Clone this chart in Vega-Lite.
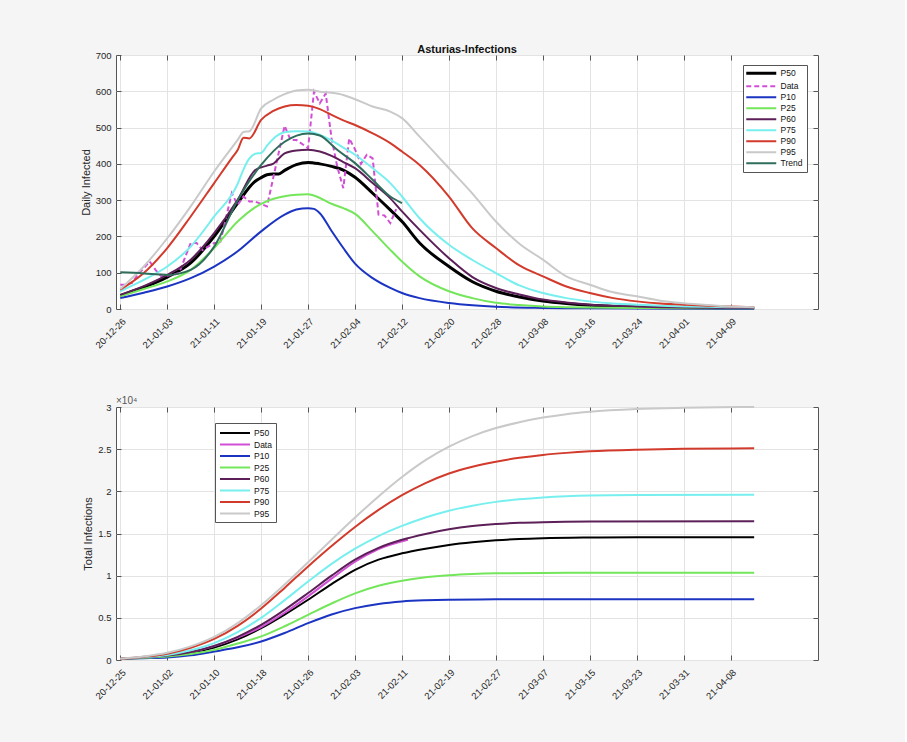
{
  "$schema": "https://vega.github.io/schema/vega-lite/v6.json",
  "background": "#f5f5f5",
  "padding": {"left": 79, "top": 43, "right": 86, "bottom": 40},
  "datasets": {
    "daily": [
      {"s":"P50","t":"2020-12-26","v":37},{"s":"P50","t":"2020-12-30","v":60},{"s":"P50","t":"2021-01-03","v":88},{"s":"P50","t":"2021-01-07","v":127},{"s":"P50","t":"2021-01-11","v":200},{"s":"P50","t":"2021-01-15","v":292},{"s":"P50","t":"2021-01-18","v":352},{"s":"P50","t":"2021-01-19","v":362},{"s":"P50","t":"2021-01-20","v":370},{"s":"P50","t":"2021-01-21","v":372},{"s":"P50","t":"2021-01-22","v":372},{"s":"P50","t":"2021-01-23","v":382},{"s":"P50","t":"2021-01-25","v":398},{"s":"P50","t":"2021-01-27","v":404},{"s":"P50","t":"2021-01-29","v":400},{"s":"P50","t":"2021-01-31","v":393},{"s":"P50","t":"2021-02-02","v":383},{"s":"P50","t":"2021-02-04","v":363},{"s":"P50","t":"2021-02-07","v":319},{"s":"P50","t":"2021-02-10","v":273},{"s":"P50","t":"2021-02-12","v":241},{"s":"P50","t":"2021-02-15","v":182},{"s":"P50","t":"2021-02-20","v":117},{"s":"P50","t":"2021-02-24","v":75},{"s":"P50","t":"2021-02-28","v":49},{"s":"P50","t":"2021-03-04","v":33},{"s":"P50","t":"2021-03-08","v":22},{"s":"P50","t":"2021-03-12","v":15},{"s":"P50","t":"2021-03-16","v":10},{"s":"P50","t":"2021-03-20","v":7},{"s":"P50","t":"2021-03-24","v":5.5},{"s":"P50","t":"2021-03-28","v":4.5},{"s":"P50","t":"2021-04-01","v":4},{"s":"P50","t":"2021-04-05","v":3.5},{"s":"P50","t":"2021-04-09","v":3},{"s":"P50","t":"2021-04-13","v":3},
      {"s":"Data","t":"2020-12-26","v":67},{"s":"Data","t":"2020-12-27","v":67},{"s":"Data","t":"2020-12-28","v":72},{"s":"Data","t":"2020-12-29","v":95},{"s":"Data","t":"2020-12-31","v":131},{"s":"Data","t":"2021-01-01","v":108},{"s":"Data","t":"2021-01-02","v":90},{"s":"Data","t":"2021-01-04","v":94},{"s":"Data","t":"2021-01-05","v":99},{"s":"Data","t":"2021-01-07","v":182},{"s":"Data","t":"2021-01-08","v":182},{"s":"Data","t":"2021-01-09","v":163},{"s":"Data","t":"2021-01-11","v":182},{"s":"Data","t":"2021-01-12","v":182},{"s":"Data","t":"2021-01-14","v":319},{"s":"Data","t":"2021-01-15","v":287},{"s":"Data","t":"2021-01-16","v":310},{"s":"Data","t":"2021-01-17","v":296},{"s":"Data","t":"2021-01-18","v":296},{"s":"Data","t":"2021-01-20","v":283},{"s":"Data","t":"2021-01-23","v":505},{"s":"Data","t":"2021-01-24","v":466},{"s":"Data","t":"2021-01-25","v":466},{"s":"Data","t":"2021-01-27","v":443},{"s":"Data","t":"2021-01-28","v":599},{"s":"Data","t":"2021-01-29","v":567},{"s":"Data","t":"2021-01-30","v":594},{"s":"Data","t":"2021-01-31","v":470},{"s":"Data","t":"2021-02-01","v":390},{"s":"Data","t":"2021-02-02","v":333},{"s":"Data","t":"2021-02-03","v":470},{"s":"Data","t":"2021-02-04","v":440},{"s":"Data","t":"2021-02-05","v":400},{"s":"Data","t":"2021-02-06","v":425},{"s":"Data","t":"2021-02-07","v":415},{"s":"Data","t":"2021-02-08","v":260},{"s":"Data","t":"2021-02-09","v":258},{"s":"Data","t":"2021-02-10","v":237},{"s":"Data","t":"2021-02-11","v":275},
      {"s":"P10","t":"2020-12-26","v":30},{"s":"P10","t":"2020-12-30","v":45},{"s":"P10","t":"2021-01-03","v":62},{"s":"P10","t":"2021-01-07","v":85},{"s":"P10","t":"2021-01-11","v":117},{"s":"P10","t":"2021-01-15","v":159},{"s":"P10","t":"2021-01-19","v":214},{"s":"P10","t":"2021-01-23","v":260},{"s":"P10","t":"2021-01-25","v":274},{"s":"P10","t":"2021-01-27","v":278},{"s":"P10","t":"2021-01-28","v":276},{"s":"P10","t":"2021-01-29","v":264},{"s":"P10","t":"2021-01-31","v":215},{"s":"P10","t":"2021-02-02","v":168},{"s":"P10","t":"2021-02-04","v":125},{"s":"P10","t":"2021-02-07","v":85},{"s":"P10","t":"2021-02-10","v":58},{"s":"P10","t":"2021-02-12","v":44},{"s":"P10","t":"2021-02-15","v":30},{"s":"P10","t":"2021-02-20","v":16.5},{"s":"P10","t":"2021-02-24","v":10},{"s":"P10","t":"2021-02-28","v":6},{"s":"P10","t":"2021-03-08","v":3},{"s":"P10","t":"2021-03-16","v":2},{"s":"P10","t":"2021-04-01","v":1},{"s":"P10","t":"2021-04-13","v":1},
      {"s":"P25","t":"2020-12-26","v":35},{"s":"P25","t":"2020-12-30","v":55},{"s":"P25","t":"2021-01-03","v":76},{"s":"P25","t":"2021-01-07","v":108},{"s":"P25","t":"2021-01-11","v":168},{"s":"P25","t":"2021-01-15","v":241},{"s":"P25","t":"2021-01-19","v":290},{"s":"P25","t":"2021-01-21","v":303},{"s":"P25","t":"2021-01-23","v":311},{"s":"P25","t":"2021-01-25","v":315},{"s":"P25","t":"2021-01-27","v":316},{"s":"P25","t":"2021-01-29","v":306},{"s":"P25","t":"2021-01-31","v":290},{"s":"P25","t":"2021-02-02","v":278},{"s":"P25","t":"2021-02-04","v":262},{"s":"P25","t":"2021-02-07","v":214},{"s":"P25","t":"2021-02-10","v":163},{"s":"P25","t":"2021-02-12","v":131},{"s":"P25","t":"2021-02-15","v":90},{"s":"P25","t":"2021-02-20","v":49},{"s":"P25","t":"2021-02-24","v":30},{"s":"P25","t":"2021-02-28","v":17},{"s":"P25","t":"2021-03-04","v":11},{"s":"P25","t":"2021-03-08","v":7},{"s":"P25","t":"2021-03-12","v":5},{"s":"P25","t":"2021-03-16","v":4},{"s":"P25","t":"2021-03-24","v":3},{"s":"P25","t":"2021-04-01","v":2},{"s":"P25","t":"2021-04-13","v":2},
      {"s":"P60","t":"2020-12-26","v":39},{"s":"P60","t":"2020-12-30","v":63},{"s":"P60","t":"2021-01-03","v":94},{"s":"P60","t":"2021-01-07","v":136},{"s":"P60","t":"2021-01-11","v":209},{"s":"P60","t":"2021-01-15","v":301},{"s":"P60","t":"2021-01-18","v":383},{"s":"P60","t":"2021-01-20","v":395},{"s":"P60","t":"2021-01-21","v":400},{"s":"P60","t":"2021-01-23","v":429},{"s":"P60","t":"2021-01-25","v":437},{"s":"P60","t":"2021-01-27","v":439},{"s":"P60","t":"2021-01-29","v":434},{"s":"P60","t":"2021-01-31","v":422},{"s":"P60","t":"2021-02-02","v":405},{"s":"P60","t":"2021-02-04","v":388},{"s":"P60","t":"2021-02-07","v":347},{"s":"P60","t":"2021-02-10","v":305},{"s":"P60","t":"2021-02-12","v":269},{"s":"P60","t":"2021-02-15","v":218},{"s":"P60","t":"2021-02-20","v":140},{"s":"P60","t":"2021-02-24","v":88},{"s":"P60","t":"2021-02-28","v":58},{"s":"P60","t":"2021-03-04","v":40},{"s":"P60","t":"2021-03-08","v":26},{"s":"P60","t":"2021-03-12","v":18},{"s":"P60","t":"2021-03-16","v":12},{"s":"P60","t":"2021-03-20","v":9},{"s":"P60","t":"2021-03-24","v":7},{"s":"P60","t":"2021-03-28","v":5},{"s":"P60","t":"2021-04-01","v":4},{"s":"P60","t":"2021-04-05","v":3.5},{"s":"P60","t":"2021-04-09","v":3},{"s":"P60","t":"2021-04-13","v":3},
      {"s":"P75","t":"2020-12-26","v":49},{"s":"P75","t":"2020-12-30","v":80},{"s":"P75","t":"2021-01-03","v":117},{"s":"P75","t":"2021-01-07","v":172},{"s":"P75","t":"2021-01-11","v":255},{"s":"P75","t":"2021-01-15","v":345},{"s":"P75","t":"2021-01-16","v":385},{"s":"P75","t":"2021-01-17","v":415},{"s":"P75","t":"2021-01-18","v":428},{"s":"P75","t":"2021-01-19","v":430},{"s":"P75","t":"2021-01-20","v":450},{"s":"P75","t":"2021-01-21","v":468},{"s":"P75","t":"2021-01-23","v":487},{"s":"P75","t":"2021-01-25","v":490},{"s":"P75","t":"2021-01-27","v":489},{"s":"P75","t":"2021-01-29","v":480},{"s":"P75","t":"2021-01-31","v":465},{"s":"P75","t":"2021-02-02","v":445},{"s":"P75","t":"2021-02-04","v":425},{"s":"P75","t":"2021-02-07","v":388},{"s":"P75","t":"2021-02-10","v":347},{"s":"P75","t":"2021-02-12","v":310},{"s":"P75","t":"2021-02-15","v":250},{"s":"P75","t":"2021-02-20","v":177},{"s":"P75","t":"2021-02-24","v":135},{"s":"P75","t":"2021-02-28","v":99},{"s":"P75","t":"2021-03-04","v":65},{"s":"P75","t":"2021-03-08","v":44},{"s":"P75","t":"2021-03-12","v":30},{"s":"P75","t":"2021-03-16","v":21},{"s":"P75","t":"2021-03-20","v":15},{"s":"P75","t":"2021-03-24","v":12},{"s":"P75","t":"2021-03-28","v":9},{"s":"P75","t":"2021-04-01","v":7},{"s":"P75","t":"2021-04-05","v":6},{"s":"P75","t":"2021-04-09","v":5},{"s":"P75","t":"2021-04-13","v":4.5},
      {"s":"P90","t":"2020-12-26","v":53},{"s":"P90","t":"2020-12-30","v":99},{"s":"P90","t":"2021-01-03","v":168},{"s":"P90","t":"2021-01-07","v":255},{"s":"P90","t":"2021-01-11","v":347},{"s":"P90","t":"2021-01-14","v":416},{"s":"P90","t":"2021-01-15","v":438},{"s":"P90","t":"2021-01-16","v":472},{"s":"P90","t":"2021-01-17","v":470},{"s":"P90","t":"2021-01-19","v":521},{"s":"P90","t":"2021-01-21","v":545},{"s":"P90","t":"2021-01-23","v":558},{"s":"P90","t":"2021-01-25","v":562},{"s":"P90","t":"2021-01-27","v":560},{"s":"P90","t":"2021-01-29","v":551},{"s":"P90","t":"2021-01-31","v":535},{"s":"P90","t":"2021-02-02","v":520},{"s":"P90","t":"2021-02-04","v":507},{"s":"P90","t":"2021-02-07","v":484},{"s":"P90","t":"2021-02-10","v":457},{"s":"P90","t":"2021-02-12","v":434},{"s":"P90","t":"2021-02-15","v":397},{"s":"P90","t":"2021-02-20","v":310},{"s":"P90","t":"2021-02-24","v":222},{"s":"P90","t":"2021-02-28","v":168},{"s":"P90","t":"2021-03-04","v":120},{"s":"P90","t":"2021-03-08","v":90},{"s":"P90","t":"2021-03-12","v":62},{"s":"P90","t":"2021-03-16","v":44},{"s":"P90","t":"2021-03-20","v":30},{"s":"P90","t":"2021-03-24","v":21},{"s":"P90","t":"2021-03-28","v":15},{"s":"P90","t":"2021-04-01","v":12},{"s":"P90","t":"2021-04-05","v":9},{"s":"P90","t":"2021-04-09","v":7},{"s":"P90","t":"2021-04-13","v":5},
      {"s":"P95","t":"2020-12-26","v":55},{"s":"P95","t":"2020-12-30","v":117},{"s":"P95","t":"2021-01-03","v":195},{"s":"P95","t":"2021-01-07","v":283},{"s":"P95","t":"2021-01-11","v":379},{"s":"P95","t":"2021-01-15","v":466},{"s":"P95","t":"2021-01-16","v":488},{"s":"P95","t":"2021-01-17","v":490},{"s":"P95","t":"2021-01-19","v":553},{"s":"P95","t":"2021-01-21","v":576},{"s":"P95","t":"2021-01-23","v":592},{"s":"P95","t":"2021-01-25","v":602},{"s":"P95","t":"2021-01-27","v":604},{"s":"P95","t":"2021-01-29","v":599},{"s":"P95","t":"2021-01-31","v":596},{"s":"P95","t":"2021-02-02","v":590},{"s":"P95","t":"2021-02-04","v":578},{"s":"P95","t":"2021-02-07","v":558},{"s":"P95","t":"2021-02-10","v":544},{"s":"P95","t":"2021-02-12","v":526},{"s":"P95","t":"2021-02-15","v":475},{"s":"P95","t":"2021-02-20","v":388},{"s":"P95","t":"2021-02-24","v":318},{"s":"P95","t":"2021-02-28","v":241},{"s":"P95","t":"2021-03-04","v":180},{"s":"P95","t":"2021-03-08","v":136},{"s":"P95","t":"2021-03-12","v":90},{"s":"P95","t":"2021-03-16","v":67},{"s":"P95","t":"2021-03-20","v":46},{"s":"P95","t":"2021-03-24","v":35},{"s":"P95","t":"2021-03-28","v":23},{"s":"P95","t":"2021-04-01","v":16},{"s":"P95","t":"2021-04-05","v":11},{"s":"P95","t":"2021-04-09","v":7},{"s":"P95","t":"2021-04-13","v":5},
      {"s":"Trend","t":"2020-12-26","v":101},{"s":"Trend","t":"2020-12-30","v":98},{"s":"Trend","t":"2021-01-01","v":96},{"s":"Trend","t":"2021-01-03","v":94},{"s":"Trend","t":"2021-01-07","v":108},{"s":"Trend","t":"2021-01-11","v":172},{"s":"Trend","t":"2021-01-15","v":300},{"s":"Trend","t":"2021-01-19","v":397},{"s":"Trend","t":"2021-01-23","v":461},{"s":"Trend","t":"2021-01-27","v":484},{"s":"Trend","t":"2021-01-29","v":478},{"s":"Trend","t":"2021-02-01","v":438},{"s":"Trend","t":"2021-02-04","v":402},{"s":"Trend","t":"2021-02-07","v":356},{"s":"Trend","t":"2021-02-10","v":310},{"s":"Trend","t":"2021-02-12","v":292}
    ],
    "total": [
      {"s":"P50","t":"2020-12-25","v":150},{"s":"P50","t":"2020-12-29","v":280},{"s":"P50","t":"2021-01-02","v":480},{"s":"P50","t":"2021-01-06","v":850},{"s":"P50","t":"2021-01-10","v":1480},{"s":"P50","t":"2021-01-14","v":2450},{"s":"P50","t":"2021-01-18","v":3770},{"s":"P50","t":"2021-01-22","v":5380},{"s":"P50","t":"2021-01-26","v":7140},{"s":"P50","t":"2021-01-30","v":9000},{"s":"P50","t":"2021-02-03","v":10700},{"s":"P50","t":"2021-02-07","v":11900},{"s":"P50","t":"2021-02-11","v":12650},{"s":"P50","t":"2021-02-15","v":13200},{"s":"P50","t":"2021-02-19","v":13650},{"s":"P50","t":"2021-02-23","v":13970},{"s":"P50","t":"2021-02-27","v":14200},{"s":"P50","t":"2021-03-03","v":14350},{"s":"P50","t":"2021-03-07","v":14440},{"s":"P50","t":"2021-03-15","v":14520},{"s":"P50","t":"2021-03-23","v":14550},{"s":"P50","t":"2021-04-12","v":14560},
      {"s":"Data","t":"2020-12-25","v":150},{"s":"Data","t":"2020-12-29","v":300},{"s":"Data","t":"2021-01-02","v":500},{"s":"Data","t":"2021-01-06","v":930},{"s":"Data","t":"2021-01-10","v":1650},{"s":"Data","t":"2021-01-14","v":2650},{"s":"Data","t":"2021-01-18","v":3900},{"s":"Data","t":"2021-01-22","v":5600},{"s":"Data","t":"2021-01-26","v":7550},{"s":"Data","t":"2021-01-30","v":9650},{"s":"Data","t":"2021-02-03","v":11650},{"s":"Data","t":"2021-02-07","v":13150},{"s":"Data","t":"2021-02-12","v":14250},
      {"s":"P10","t":"2020-12-25","v":150},{"s":"P10","t":"2020-12-29","v":220},{"s":"P10","t":"2021-01-02","v":300},{"s":"P10","t":"2021-01-06","v":550},{"s":"P10","t":"2021-01-10","v":1000},{"s":"P10","t":"2021-01-14","v":1500},{"s":"P10","t":"2021-01-18","v":2200},{"s":"P10","t":"2021-01-22","v":3200},{"s":"P10","t":"2021-01-26","v":4370},{"s":"P10","t":"2021-01-30","v":5400},{"s":"P10","t":"2021-02-03","v":6150},{"s":"P10","t":"2021-02-07","v":6650},{"s":"P10","t":"2021-02-11","v":6940},{"s":"P10","t":"2021-02-15","v":7080},{"s":"P10","t":"2021-02-19","v":7150},{"s":"P10","t":"2021-02-27","v":7190},{"s":"P10","t":"2021-03-07","v":7200},{"s":"P10","t":"2021-04-12","v":7200},
      {"s":"P25","t":"2020-12-25","v":150},{"s":"P25","t":"2020-12-29","v":250},{"s":"P25","t":"2021-01-02","v":400},{"s":"P25","t":"2021-01-06","v":700},{"s":"P25","t":"2021-01-10","v":1200},{"s":"P25","t":"2021-01-14","v":1950},{"s":"P25","t":"2021-01-18","v":2800},{"s":"P25","t":"2021-01-22","v":4000},{"s":"P25","t":"2021-01-26","v":5360},{"s":"P25","t":"2021-01-30","v":6700},{"s":"P25","t":"2021-02-03","v":7900},{"s":"P25","t":"2021-02-07","v":8800},{"s":"P25","t":"2021-02-11","v":9400},{"s":"P25","t":"2021-02-15","v":9800},{"s":"P25","t":"2021-02-19","v":10050},{"s":"P25","t":"2021-02-23","v":10200},{"s":"P25","t":"2021-02-27","v":10280},{"s":"P25","t":"2021-03-07","v":10330},{"s":"P25","t":"2021-04-12","v":10350},
      {"s":"P60","t":"2020-12-25","v":150},{"s":"P60","t":"2020-12-29","v":300},{"s":"P60","t":"2021-01-02","v":520},{"s":"P60","t":"2021-01-06","v":950},{"s":"P60","t":"2021-01-10","v":1670},{"s":"P60","t":"2021-01-14","v":2750},{"s":"P60","t":"2021-01-18","v":4170},{"s":"P60","t":"2021-01-22","v":5950},{"s":"P60","t":"2021-01-26","v":7940},{"s":"P60","t":"2021-01-30","v":10000},{"s":"P60","t":"2021-02-03","v":11900},{"s":"P60","t":"2021-02-07","v":13300},{"s":"P60","t":"2021-02-11","v":14250},{"s":"P60","t":"2021-02-15","v":14950},{"s":"P60","t":"2021-02-19","v":15500},{"s":"P60","t":"2021-02-23","v":15880},{"s":"P60","t":"2021-02-27","v":16120},{"s":"P60","t":"2021-03-03","v":16260},{"s":"P60","t":"2021-03-07","v":16340},{"s":"P60","t":"2021-03-15","v":16410},{"s":"P60","t":"2021-04-12","v":16450},
      {"s":"P75","t":"2020-12-25","v":150},{"s":"P75","t":"2020-12-29","v":330},{"s":"P75","t":"2021-01-02","v":600},{"s":"P75","t":"2021-01-06","v":1150},{"s":"P75","t":"2021-01-10","v":2000},{"s":"P75","t":"2021-01-14","v":3300},{"s":"P75","t":"2021-01-18","v":5000},{"s":"P75","t":"2021-01-22","v":7100},{"s":"P75","t":"2021-01-26","v":9300},{"s":"P75","t":"2021-01-30","v":11400},{"s":"P75","t":"2021-02-03","v":13200},{"s":"P75","t":"2021-02-07","v":14700},{"s":"P75","t":"2021-02-11","v":15900},{"s":"P75","t":"2021-02-15","v":16900},{"s":"P75","t":"2021-02-19","v":17700},{"s":"P75","t":"2021-02-23","v":18300},{"s":"P75","t":"2021-02-27","v":18750},{"s":"P75","t":"2021-03-03","v":19050},{"s":"P75","t":"2021-03-07","v":19270},{"s":"P75","t":"2021-03-11","v":19420},{"s":"P75","t":"2021-03-15","v":19510},{"s":"P75","t":"2021-03-23","v":19570},{"s":"P75","t":"2021-04-12","v":19600},
      {"s":"P90","t":"2020-12-25","v":150},{"s":"P90","t":"2020-12-29","v":380},{"s":"P90","t":"2021-01-02","v":750},{"s":"P90","t":"2021-01-06","v":1450},{"s":"P90","t":"2021-01-10","v":2500},{"s":"P90","t":"2021-01-14","v":4050},{"s":"P90","t":"2021-01-18","v":6100},{"s":"P90","t":"2021-01-22","v":8550},{"s":"P90","t":"2021-01-26","v":11100},{"s":"P90","t":"2021-01-30","v":13520},{"s":"P90","t":"2021-02-03","v":15780},{"s":"P90","t":"2021-02-07","v":17800},{"s":"P90","t":"2021-02-11","v":19540},{"s":"P90","t":"2021-02-15","v":20980},{"s":"P90","t":"2021-02-19","v":22120},{"s":"P90","t":"2021-02-23","v":22920},{"s":"P90","t":"2021-02-27","v":23520},{"s":"P90","t":"2021-03-03","v":23980},{"s":"P90","t":"2021-03-07","v":24320},{"s":"P90","t":"2021-03-11","v":24560},{"s":"P90","t":"2021-03-15","v":24740},{"s":"P90","t":"2021-03-23","v":24940},{"s":"P90","t":"2021-03-31","v":25040},{"s":"P90","t":"2021-04-12","v":25100},
      {"s":"P95","t":"2020-12-25","v":150},{"s":"P95","t":"2020-12-29","v":410},{"s":"P95","t":"2021-01-02","v":850},{"s":"P95","t":"2021-01-06","v":1610},{"s":"P95","t":"2021-01-10","v":2730},{"s":"P95","t":"2021-01-14","v":4380},{"s":"P95","t":"2021-01-18","v":6500},{"s":"P95","t":"2021-01-22","v":8960},{"s":"P95","t":"2021-01-26","v":11600},{"s":"P95","t":"2021-01-30","v":14270},{"s":"P95","t":"2021-02-03","v":16900},{"s":"P95","t":"2021-02-07","v":19400},{"s":"P95","t":"2021-02-11","v":21700},{"s":"P95","t":"2021-02-15","v":23700},{"s":"P95","t":"2021-02-19","v":25300},{"s":"P95","t":"2021-02-23","v":26550},{"s":"P95","t":"2021-02-27","v":27500},{"s":"P95","t":"2021-03-03","v":28200},{"s":"P95","t":"2021-03-07","v":28750},{"s":"P95","t":"2021-03-11","v":29150},{"s":"P95","t":"2021-03-15","v":29430},{"s":"P95","t":"2021-03-23","v":29750},{"s":"P95","t":"2021-03-31","v":29900},{"s":"P95","t":"2021-04-12","v":30000}
    ]
  },
  "vconcat": [
    {
      "width": 702,
      "height": 254,
      "title": {"text": "Asturias-Infections", "offset": -5},
      "data": {"name": "daily", "format": {"parse": {"t": "date:'%Y-%m-%d'"}}},
      "encoding": {
        "x": {"field": "t", "type": "temporal",
          "scale": {"domain": [{"year": 2020, "month": 12, "date": 25, "hours": 6, "minutes": 30}, {"year": 2021, "month": 4, "date": 23, "hours": 21}]}},
        "y": {"field": "v", "type": "quantitative", "scale": {"domain": [0, 700], "nice": false}}
      },
      "layer": [
        {
          "transform": [{"filter": "datum.s === 'P50'"}],
          "mark": {"type": "line", "interpolate": "monotone", "strokeWidth": 3},
          "encoding": {
            "x": {"field": "t", "type": "temporal",
              "axis": {"values": [{"year":2020,"month":12,"date":26},{"year":2021,"month":1,"date":3},{"year":2021,"month":1,"date":11},{"year":2021,"month":1,"date":19},{"year":2021,"month":1,"date":27},{"year":2021,"month":2,"date":4},{"year":2021,"month":2,"date":12},{"year":2021,"month":2,"date":20},{"year":2021,"month":2,"date":28},{"year":2021,"month":3,"date":8},{"year":2021,"month":3,"date":16},{"year":2021,"month":3,"date":24},{"year":2021,"month":4,"date":1},{"year":2021,"month":4,"date":9}],
                "format": "%y-%m-%d", "labelAngle": -45, "title": null, "grid": true, "labelPadding": 12}},
            "y": {"field": "v", "type": "quantitative",
              "axis": {"values": [0,100,200,300,400,500,600,700], "title": "Daily Infected", "grid": true, "labelPadding": 10, "titlePadding": 4}},
            "color": {"field": "s", "type": "nominal",
              "scale": {"domain": ["P50","Data","P10","P25","P60","P75","P90","P95","Trend"],
                        "range": ["#000000","#d14fd4","#1c34c2","#74e65b","#5c1f58","#78efef","#d23a2b","#c9c9c9","#2f6d5c"]},
              "legend": {"orient": "none", "legendX": 627, "legendY": 10, "title": null,
                "symbolType": "M-3,0H3", "symbolSize": 100, "symbolOffset": 10, "labelOffset": 15,
                "labelFontSize": 8.5, "fillColor": "white", "strokeColor": "#555",
                "padding": 4, "rowPadding": 2,
                "labelExpr": "(datum.label === 'Data' ? '\u00a0Data' : datum.label) + '\u00a0\u00a0'",
                "encode": {"symbols": {"update": {
                  "strokeWidth": {"signal": "datum.value === 'P50' ? 3 : 2"},
                  "strokeDash": {"signal": "datum.value === 'Data' ? [5,3] : [1,0]"}}}}}}
          }
        },
        {
          "transform": [{"filter": "datum.s === 'Data'"}],
          "mark": {"type": "line", "strokeWidth": 2, "strokeDash": [5, 3]},
          "encoding": {
            "x": {"field": "t", "type": "temporal", "axis": null},
            "y": {"field": "v", "type": "quantitative", "axis": null},
            "color": {"field": "s", "type": "nominal"}
          }
        },
        {
          "transform": [{"filter": "datum.s !== 'Data' && datum.s !== 'P50'"}],
          "mark": {"type": "line", "interpolate": "monotone", "strokeWidth": 2},
          "encoding": {
            "x": {"field": "t", "type": "temporal", "axis": null},
            "y": {"field": "v", "type": "quantitative", "axis": null},
            "color": {"field": "s", "type": "nominal"}
          }
        },
        {
          "mark": {"type": "point", "opacity": 0},
          "encoding": {
            "x": {"field": "t", "type": "temporal",
              "axis": {"orient": "top", "values": [{"year":2020,"month":12,"date":26},{"year":2021,"month":1,"date":3},{"year":2021,"month":1,"date":11},{"year":2021,"month":1,"date":19},{"year":2021,"month":1,"date":27},{"year":2021,"month":2,"date":4},{"year":2021,"month":2,"date":12},{"year":2021,"month":2,"date":20},{"year":2021,"month":2,"date":28},{"year":2021,"month":3,"date":8},{"year":2021,"month":3,"date":16},{"year":2021,"month":3,"date":24},{"year":2021,"month":4,"date":1},{"year":2021,"month":4,"date":9}],
                "labels": false, "title": null, "grid": false}},
            "y": {"field": "v", "type": "quantitative",
              "axis": {"orient": "right", "values": [0,100,200,300,400,500,600,700], "labels": false, "title": null, "grid": false}}
          }
        }
      ],
      "resolve": {"axis": {"x": "independent", "y": "independent"}}
    },
    {
      "width": 702,
      "height": 253,
      "title": {"text": "×10⁴", "anchor": "start", "frame": "group", "fontSize": 10, "fontWeight": "normal", "color": "#555", "offset": -4},
      "data": {"name": "total", "format": {"parse": {"t": "date:'%Y-%m-%d'"}}},
      "encoding": {
        "x": {"field": "t", "type": "temporal",
          "scale": {"domain": [{"year": 2020, "month": 12, "date": 24, "hours": 6, "minutes": 30}, {"year": 2021, "month": 4, "date": 22, "hours": 21}]}},
        "y": {"field": "v", "type": "quantitative", "scale": {"domain": [0, 30000], "nice": false}}
      },
      "layer": [
        {
          "mark": {"type": "line", "interpolate": "monotone", "strokeWidth": 2},
          "encoding": {
            "x": {"field": "t", "type": "temporal",
              "axis": {"values": [{"year":2020,"month":12,"date":25},{"year":2021,"month":1,"date":2},{"year":2021,"month":1,"date":10},{"year":2021,"month":1,"date":18},{"year":2021,"month":1,"date":26},{"year":2021,"month":2,"date":3},{"year":2021,"month":2,"date":11},{"year":2021,"month":2,"date":19},{"year":2021,"month":2,"date":27},{"year":2021,"month":3,"date":7},{"year":2021,"month":3,"date":15},{"year":2021,"month":3,"date":23},{"year":2021,"month":3,"date":31},{"year":2021,"month":4,"date":8}],
                "format": "%y-%m-%d", "labelAngle": -45, "title": null, "grid": true, "labelPadding": 12}},
            "y": {"field": "v", "type": "quantitative",
              "axis": {"values": [0,5000,10000,15000,20000,25000,30000], "labelExpr": "format(datum.value/10000, '~g')", "title": "Total Infections", "grid": true, "labelPadding": 10, "titlePadding": 4}},
            "color": {"field": "s", "type": "nominal",
              "scale": {"domain": ["P50","Data","P10","P25","P60","P75","P90","P95"],
                        "range": ["#000000","#d14fd4","#1c34c2","#74e65b","#5c1f58","#78efef","#d23a2b","#c9c9c9"]},
              "legend": {"orient": "none", "legendX": 99, "legendY": 16, "title": null,
                "symbolType": "M-3,0H3", "symbolSize": 100, "symbolOffset": 10, "labelOffset": 13, "symbolStrokeWidth": 2,
                "labelFontSize": 8.5, "fillColor": "white", "strokeColor": "#555",
                "padding": 4, "rowPadding": 0.5,
                "labelExpr": "(datum.label === 'Data' ? '\u00a0Data' : datum.label) + '\u00a0\u00a0'"}}
          }
        },
        {
          "mark": {"type": "point", "opacity": 0},
          "encoding": {
            "x": {"field": "t", "type": "temporal",
              "axis": {"orient": "top", "values": [{"year":2020,"month":12,"date":25},{"year":2021,"month":1,"date":2},{"year":2021,"month":1,"date":10},{"year":2021,"month":1,"date":18},{"year":2021,"month":1,"date":26},{"year":2021,"month":2,"date":3},{"year":2021,"month":2,"date":11},{"year":2021,"month":2,"date":19},{"year":2021,"month":2,"date":27},{"year":2021,"month":3,"date":7},{"year":2021,"month":3,"date":15},{"year":2021,"month":3,"date":23},{"year":2021,"month":3,"date":31},{"year":2021,"month":4,"date":8}],
                "labels": false, "title": null, "grid": false}},
            "y": {"field": "v", "type": "quantitative",
              "axis": {"orient": "right", "values": [0,5000,10000,15000,20000,25000,30000], "labels": false, "title": null, "grid": false}}
          }
        }
      ],
      "resolve": {"axis": {"x": "independent", "y": "independent"}}
    }
  ],
  "spacing": 98,
  "bounds": "flush",
  "resolve": {"scale": {"color": "independent"}, "legend": {"color": "independent"}},
  "config": {
    "font": "Liberation Sans",
    "view": {"stroke": "#555", "fill": "white"},
    "axis": {"domain": false, "tickColor": "#555", "tickSize": -5, "gridColor": "#e3e3e3",
      "labelFontSize": 9.5, "labelColor": "#262626", "titleFontSize": 11, "titleFontWeight": "normal", "titleColor": "#262626"},
    "title": {"fontSize": 11, "fontWeight": "bold", "color": "#111"},
    "legend": {"labelColor": "#111"}
  }
}
